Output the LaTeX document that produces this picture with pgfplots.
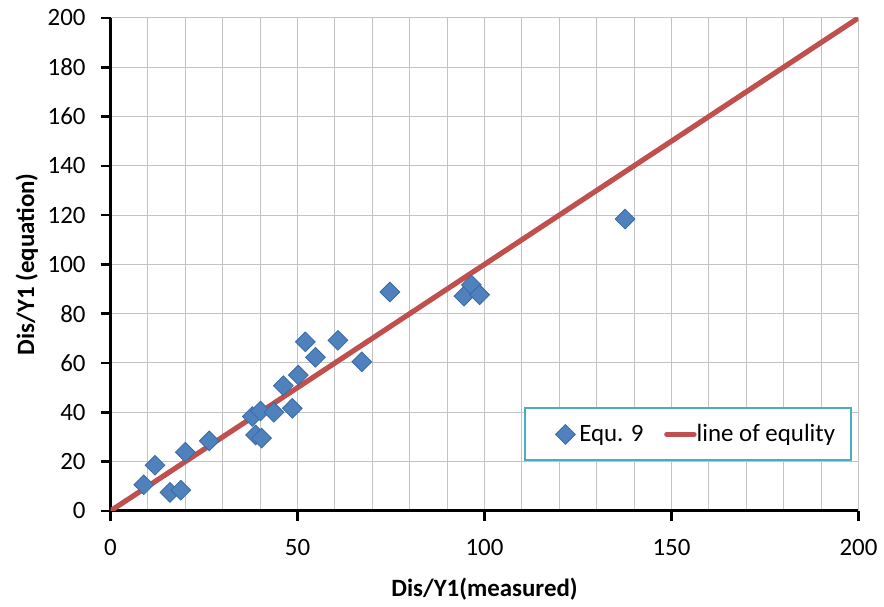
\documentclass[border=0pt]{standalone}
\usepackage{pgfplots}
\pgfplotsset{compat=1.18}
\usepackage{fontspec}
\setmainfont{Carlito}
\definecolor{excelblue}{HTML}{4F81BD}
\definecolor{exceldark}{HTML}{3A6AA5}
\definecolor{excelred}{HTML}{C0504D}
\definecolor{legendborder}{HTML}{4BACC6}
\definecolor{gridgray}{RGB}{195,195,195}
\pgfplotsset{
    short line legend/.style={
        legend image code/.code={
            \path (0pt,0pt) (13pt,0pt);
            \draw[##1, line cap=round, overlay] (1.3pt,0pt) -- (15pt,0pt);}},
    mark legend/.style={
        legend image code/.code={
            \path (0pt,0pt) (0.62cm,0pt);
            \draw[##1, mark repeat=1, mark phase=1] plot coordinates {(0.49cm,0pt)};}},
}

\begin{document}
\begin{tikzpicture}
    % frame of the whole picture (reference proportions)
    \path (-55.5pt,-47pt) rectangle (386.5pt,256.5pt);
    \begin{axis}[
        at={(0,0)}, anchor=south west,
        scale only axis,
        width=375.5pt, height=247.5pt,
        xmin=0, xmax=200, ymin=0, ymax=200,
        xtick={0,50,...,200},
        ytick={0,20,...,200},
        minor x tick num=4,
        axis lines*=left,
        axis line style={line width=1.5pt, -},
        tick align=outside,
        major tick length=5pt,
        minor tick length=0pt,
        tick style={line width=1.3pt, black},
        grid=both,
        major grid style={gridgray, line width=0.5pt},
        minor grid style={gridgray, line width=0.5pt},
        /pgf/number format/assume math mode=true,
        ticklabel style={font=\fontsize{12.5}{14}\selectfont},
        xticklabel style={yshift=-6pt},
        yticklabel style={xshift=-4pt},
        xlabel={\textbf{Dis/Y1(measured)}},
        ylabel={\textbf{Dis/Y1 (equation)}},
        label style={font=\fontsize{12.5}{14}\selectfont},
        xlabel style={yshift=-4pt},
        ylabel style={yshift=-2pt},
        legend columns=2,
        legend style={at={(axis cs:110.5,42)}, anchor=north west,
            draw=legendborder, line width=1pt, fill=white,
            font=\fontsize{12.5}{15}\selectfont,
            inner xsep=6pt, inner ysep=6pt,
            /tikz/every even column/.append style={column sep=7pt}},
    ]
        \addplot[only marks, mark=square*, mark size=3.5pt,
            mark options={rotate=45, fill=excelblue, draw=exceldark, line width=0.4pt},
            mark legend]
            coordinates {
            (8.9,10.6) (11.9,18.5) (15.9,7.5) (18.8,8.4) (20.0,23.8)
            (26.4,28.4) (37.9,38.3) (40.1,40.5) (38.8,30.8) (40.4,29.5)
            (43.7,40.0) (48.6,41.6) (46.2,50.8) (50.2,55.1) (52.1,68.6)
            (54.8,62.3) (60.8,69.2) (67.2,60.5) (74.7,88.8) (94.5,87.1)
            (96.5,91.7) (98.7,87.7) (137.6,118.4)
        };
        \addlegendentry{Equ. 9}

        \addplot[excelred, line width=2.6pt, short line legend]
            coordinates {(0,0) (200,200)};
        \addlegendentry{line of equlity}
    \end{axis}
\end{tikzpicture}
\end{document}
